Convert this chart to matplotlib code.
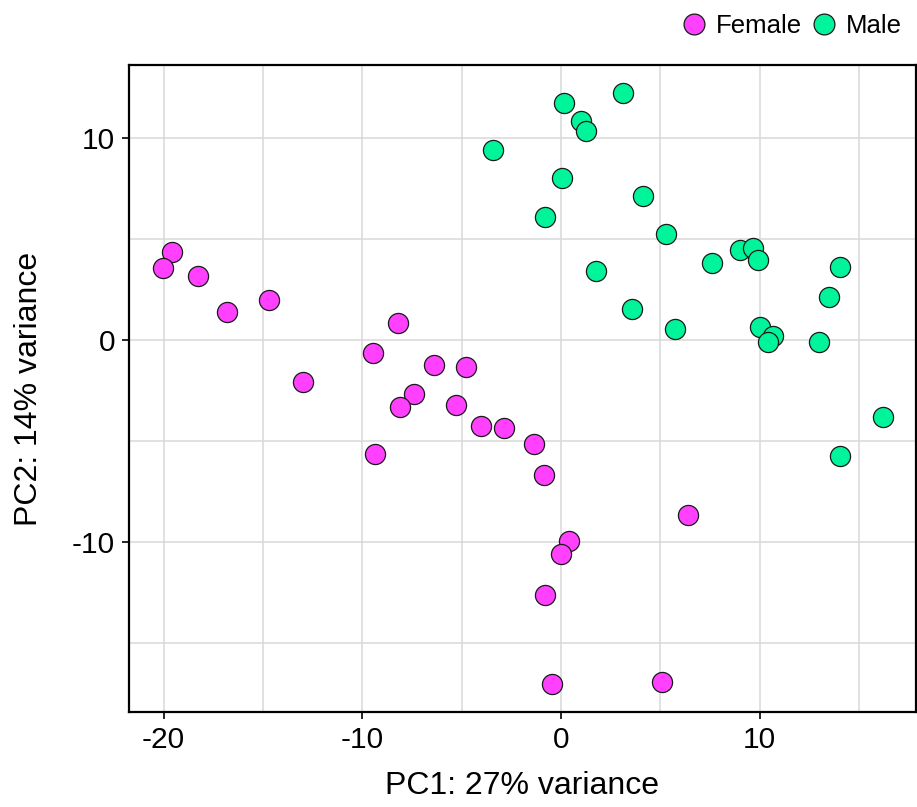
import matplotlib
matplotlib.use("Agg")
import matplotlib.pyplot as plt
from matplotlib.ticker import MultipleLocator
from matplotlib.lines import Line2D

plt.rcParams['font.family'] = ['Liberation Sans', 'DejaVu Sans']
plt.rcParams['axes.unicode_minus'] = False

female_pc1 = [-19.56, -20.05, -18.28, -16.81, -14.68, -8.20, -9.45, -6.38, -4.77, -13.0,
              -7.40, -8.09, -5.27, -4.04, -2.87, -9.38, -1.37, -0.87, 6.41, 0.42,
              -0.02, -0.79, -0.44, 5.08]
female_pc2 = [4.37, 3.55, 3.17, 1.39, 1.96, 0.83, -0.64, -1.22, -1.32, -2.06,
              -2.67, -3.30, -3.20, -4.24, -4.37, -5.66, -5.15, -6.70, -8.66, -9.93,
              -10.61, -12.61, -17.05, -16.93]
male_pc1 = [-3.42, 3.12, 0.15, 1.02, 1.27, 0.03, 4.11, -0.82, 5.28, 9.03,
            9.68, 9.91, 7.60, 1.76, 14.04, 13.47, 3.59, 5.74, 10.02, 10.69,
            10.42, 12.97, 16.19, 14.02]
male_pc2 = [9.41, 12.23, 11.72, 10.83, 10.36, 8.04, 7.11, 6.07, 5.22, 4.46,
            4.57, 3.98, 3.81, 3.43, 3.61, 2.14, 1.52, 0.54, 0.63, 0.21,
            -0.11, -0.11, -3.81, -5.73]

groups = ["Female", "Male"]
colors = {"Female": "#FF40FF", "Male": "#00F59B"}

fig = plt.figure(figsize=(9.17, 8.07), dpi=100)
ax = fig.add_axes([0.1407, 0.1173, 0.8579, 0.8022])

ax.scatter(female_pc1, female_pc2, s=210, c=colors["Female"], edgecolors="#1a1a1a",
           linewidths=0.9, zorder=3)
ax.scatter(male_pc1, male_pc2, s=210, c=colors["Male"], edgecolors="#1a1a1a",
           linewidths=0.9, zorder=3)

ax.set_xlim(-21.74, 17.85)
ax.set_ylim(-18.43, 13.61)
ax.xaxis.set_major_locator(MultipleLocator(10))
ax.xaxis.set_minor_locator(MultipleLocator(5))
ax.yaxis.set_major_locator(MultipleLocator(10))
ax.yaxis.set_minor_locator(MultipleLocator(5))
ax.grid(True, which="both", color="#D9D9D9", linewidth=1.1, zorder=0)
ax.set_axisbelow(True)
ax.tick_params(which="minor", length=0)
ax.tick_params(which="major", length=5, width=1.2, labelsize=21.5, colors="black", pad=5)
for sp in ax.spines.values():
    sp.set_linewidth(1.6)
    sp.set_color("black")

ax.set_xlabel("PC1: 27% variance", fontsize=23, labelpad=12)
ax.set_ylabel("PC2: 14% variance", fontsize=23, labelpad=20)

handles = [Line2D([], [], marker="o", linestyle="", markersize=15,
                  markerfacecolor=colors[g], markeredgecolor="#1a1a1a", markeredgewidth=0.9,
                  label=g) for g in groups]
fig.legend(handles=handles, loc="upper right", bbox_to_anchor=(1.0, 1.002), ncol=2,
           frameon=False, fontsize=18.5, handletextpad=0.3, columnspacing=0.3,
           handlelength=1.1, borderaxespad=0.2)

fig.savefig("out.png", dpi=100)
